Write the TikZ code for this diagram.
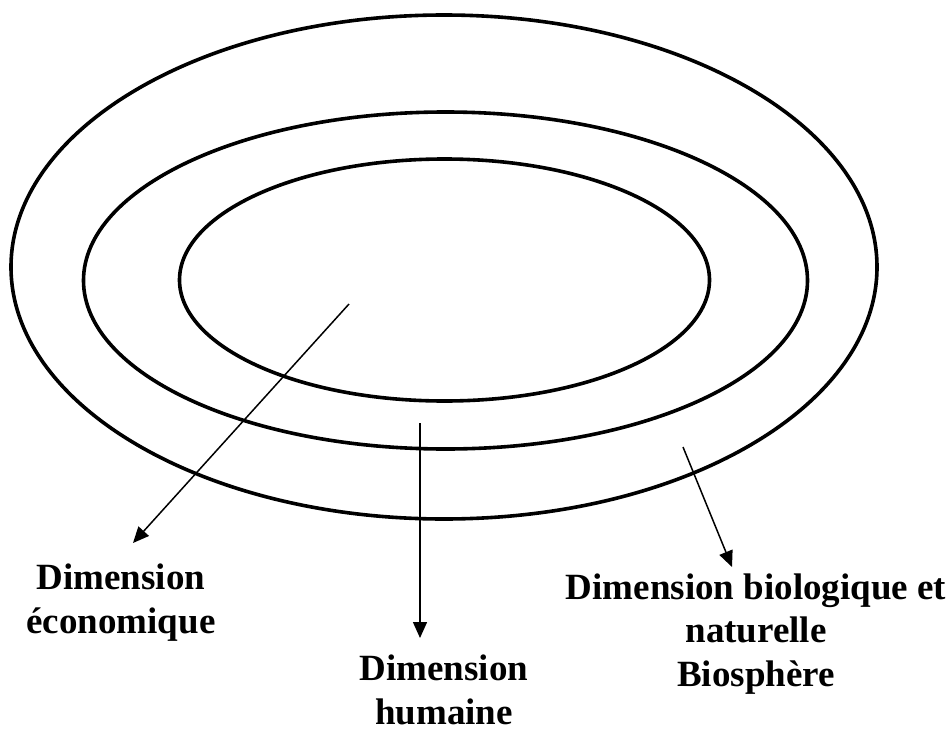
\documentclass[tikz,border=0pt]{standalone}
\usepackage{fontspec}
\setmainfont{Liberation Serif}
\usetikzlibrary{arrows.meta,positioning}
\tikzset{
  ring/.style={draw=black,line width=3.6pt},
  pointer/.style={-{Triangle[length=16pt,width=14pt]},line width=1.5pt,draw=black},
  dimlabel/.style={font=\fontsize{37}{43.5}\selectfont\bfseries,align=center,inner sep=0pt,anchor=base}
}

\begin{document}
\begin{tikzpicture}[x=1pt,y=-1pt]
  \useasboundingbox (0,0) rectangle (951,731);
  % the three nested rings
  \draw[ring] (444,267) ellipse [x radius=433pt,y radius=252pt];
  \draw[ring] (445.5,280.5) ellipse [x radius=362pt,y radius=168.5pt];
  \draw[ring] (444.5,280) ellipse [x radius=265pt,y radius=121pt];

  \coordinate (eco-in) at (349,304);
  \coordinate (eco-tip) at (133,543);
  \coordinate (hum-in) at (420,423);
  \coordinate (hum-tip) at (420,638);
  \coordinate (bio-in) at (683,447);
  \coordinate (bio-tip) at (732,567);

  % base anchor sits on the last line
  \node[dimlabel] (eco) at (121,633) {Dimension\\économique};
  \node[dimlabel] (hum) at (444,724) {Dimension\\humaine};
  \node[dimlabel] (bio) at (756,686) {Dimension biologique et\\naturelle\\Biosphère};

  \draw[pointer] (eco-in) -- (eco-tip);
  \draw[pointer] (hum-in) -- (hum-tip);
  \draw[pointer] (bio-in) -- (bio-tip);
\end{tikzpicture}
\end{document}
